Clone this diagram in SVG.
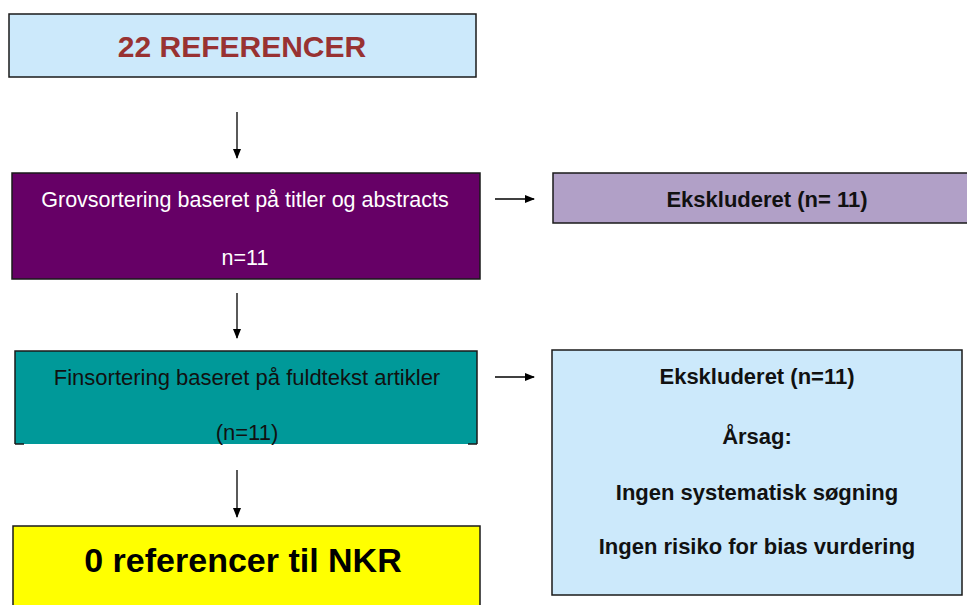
<svg xmlns="http://www.w3.org/2000/svg" width="967" height="605" viewBox="0 0 967 605">
<defs>
<marker id="ah" markerWidth="10" markerHeight="10" refX="9" refY="5" orient="auto" markerUnits="userSpaceOnUse">
<path d="M0,1 L10,5 L0,9 Z" fill="#000"/>
</marker>
<style>
.t{font-family:"Liberation Sans",Arial,sans-serif;text-anchor:middle}
.b{font-weight:bold}
.box{stroke:#1a1a1a;stroke-width:1.5}
.con{stroke:#000;stroke-width:1.3;fill:none;marker-end:url(#ah)}
</style>
</defs>
<rect width="967" height="605" fill="#fff"/>
<g id="n1">
<rect class="box" x="9" y="14" width="467" height="63" fill="#cce9fb" stroke-width="2"/>
<text class="t b" x="242" y="57" font-size="30" fill="#983232">22 REFERENCER</text>
</g>
<g id="n2">
<rect class="box" x="12" y="173" width="468" height="106" fill="#660066"/>
<text class="t" x="245" y="207" font-size="21.5" fill="#fff">Grovsortering baseret på titler og abstracts</text>
<text class="t" x="245" y="265" font-size="21.5" fill="#fff">n=11</text>
</g>
<g id="n3">
<rect x="15" y="351" width="462" height="93" fill="#009999"/>
<path d="M15,444 L15,351 L477,351 L477,444 M15,444 L24,444 M468,444 L477,444" fill="none" stroke="#1a1a1a" stroke-width="1.5"/>
<text class="t" x="247" y="385" font-size="22" fill="#111">Finsortering baseret på fuldtekst artikler</text>
<text class="t" x="247" y="440" font-size="22" fill="#111">(n=11)</text>
</g>
<g id="n4">
<rect class="box" x="13" y="526" width="467" height="90" fill="#ffff00"/>
<text class="t b" x="243" y="572" font-size="34" fill="#000">0 referencer til NKR</text>
</g>
<g id="n5">
<rect class="box" x="553" y="173" width="420" height="50" fill="#b1a0c7"/>
<text class="t b" x="767" y="207" font-size="22" fill="#111">Ekskluderet (n= 11)</text>
</g>
<g id="n6">
<rect class="box" x="552" y="350" width="410" height="245" fill="#cce9fb"/>
<text class="t b" x="757" y="384" font-size="22" fill="#111">Ekskluderet (n=11)</text>
<text class="t b" x="757" y="444" font-size="22" fill="#111">Årsag:</text>
<text class="t b" x="757" y="500" font-size="22" fill="#111">Ingen systematisk søgning</text>
<text class="t b" x="757" y="554" font-size="22" fill="#111">Ingen risiko for bias vurdering</text>
</g>
<g id="connectors">
<line class="con" x1="237" y1="112" x2="237" y2="158"/>
<line class="con" x1="237" y1="293" x2="237" y2="338"/>
<line class="con" x1="237" y1="470" x2="237" y2="517"/>
<line class="con" x1="495" y1="199" x2="534" y2="199"/>
<line class="con" x1="495" y1="377" x2="534" y2="377"/>
</g>
</svg>
